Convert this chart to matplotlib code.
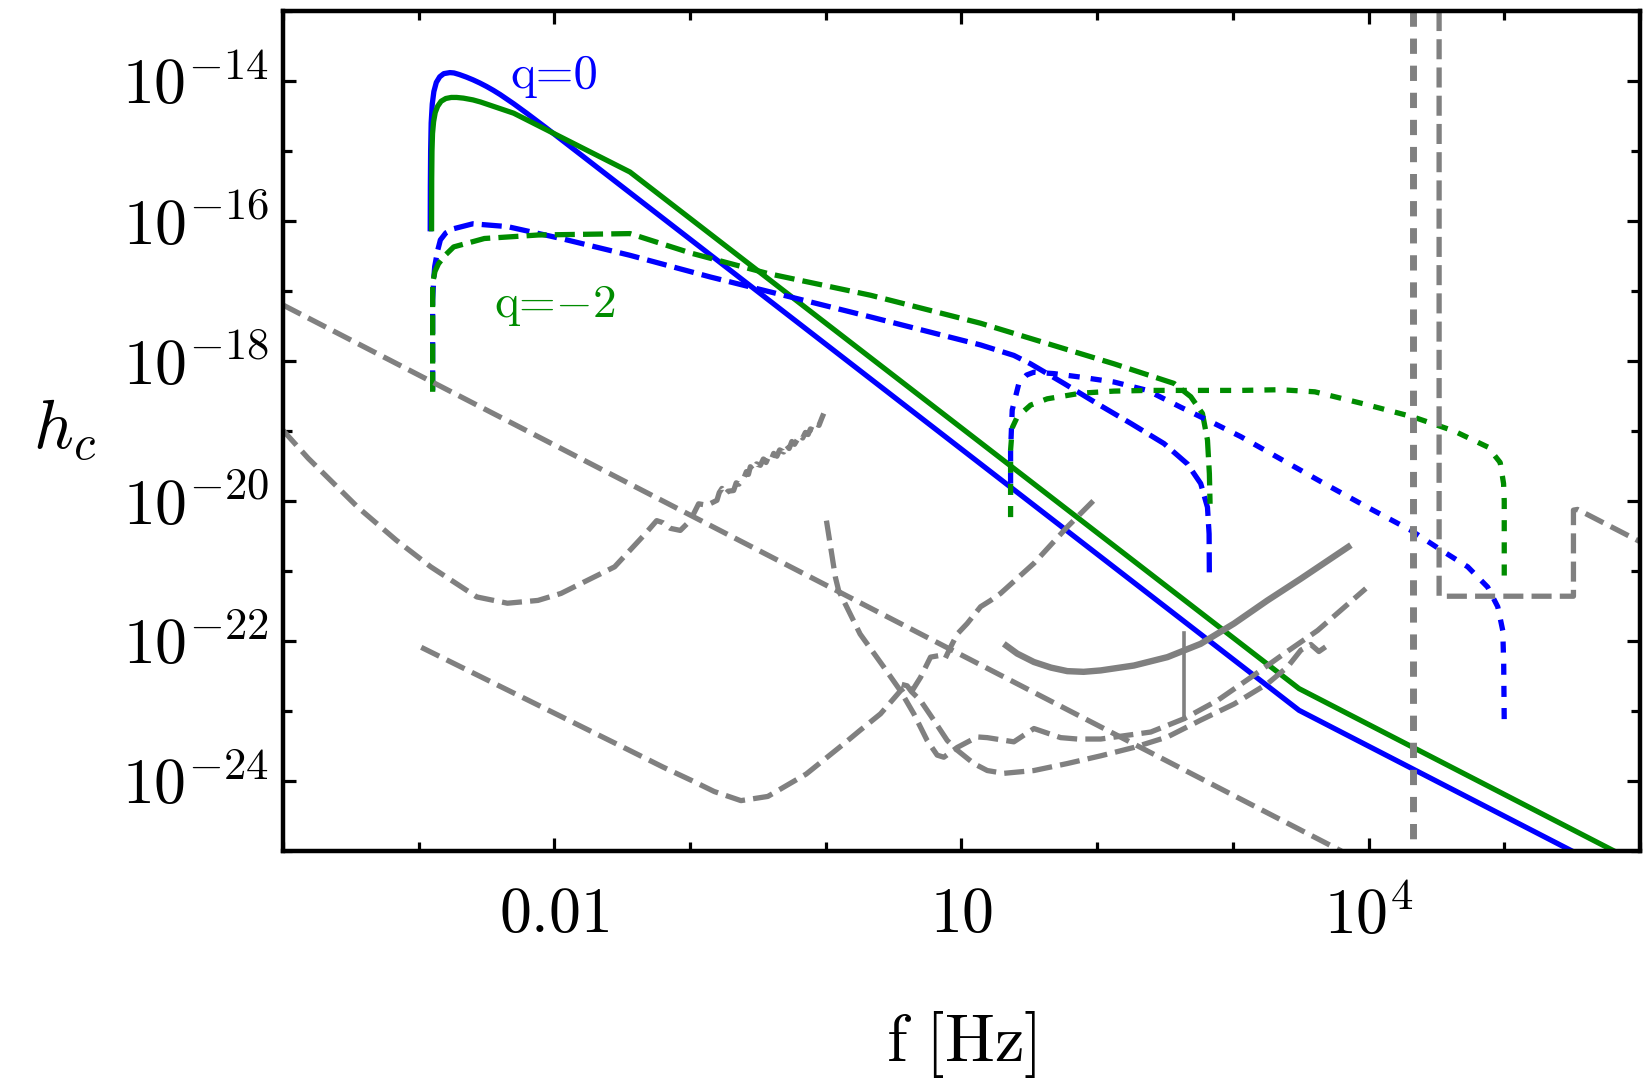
# Characteristic strain h_c vs frequency, with detector curves in grey.
import matplotlib
matplotlib.use('Agg')
import matplotlib.pyplot as plt
import numpy as np
from matplotlib.ticker import FixedLocator, NullFormatter

plt.rcParams['mathtext.fontset'] = 'cm'
plt.rcParams['font.family'] = ['cmr10', 'DejaVu Serif']
plt.rcParams['axes.formatter.use_mathtext'] = True

# ---- signal curves (log10 f [Hz], log10 h_c) ----
q0_solid_logf = [-2.915, -2.914, -2.912, -2.908, -2.900, -2.888, -2.870, -2.845, -2.815, -2.77,
                 -2.74, -2.70, -2.65, -2.60, -2.55, -2.50, -2.45, -2.40, -2.30, -2.2, -2.065,
                 3.488, 6.0]
q0_solid_logh = [-16.11, -15.5, -15.0, -14.6, -14.33, -14.15, -14.02, -13.94, -13.895, -13.88,
                 -13.885, -13.908, -13.943, -13.983, -14.028, -14.078, -14.133, -14.193, -14.325,
                 -14.466, -14.663, -22.99, -25.50]

qm2_solid_logf = [-2.905, -2.904, -2.902, -2.898, -2.89, -2.878, -2.86, -2.835, -2.80, -2.76,
                  -2.72, -2.67, -2.60, -2.544, -2.30, -2.065, -1.443, 3.488, 6.0]
qm2_solid_logh = [-16.11, -15.4, -15.0, -14.75, -14.58, -14.45, -14.36, -14.29, -14.25, -14.235,
                  -14.235, -14.245, -14.27, -14.30, -14.46, -14.69, -15.30, -22.68, -25.19]

q0_dash_logf = [-2.897, -2.897, -2.89, -2.882, -2.86, -2.840, -2.80, -2.742, -2.601, -2.346,
                -1.951, -1.443, -0.850, 0.329, 1.140, 1.386, 1.509, 1.755, 2.001, 2.247,
                2.493, 2.665, 2.763, 2.813, 2.825, 2.827]
q0_dash_logh = [-18.42, -17.13, -16.85, -16.65, -16.42, -16.27, -16.17, -16.11, -16.04, -16.08,
                -16.25, -16.49, -16.80, -17.37, -17.77, -17.92, -18.04, -18.32, -18.61, -18.89,
                -19.18, -19.47, -19.75, -20.09, -20.47, -21.13]

qm2_dash_logf = [-2.897, -2.897, -2.88, -2.854, -2.80, -2.742, -2.516, -2.120, -1.443, -0.991,
                 -0.427, 0.329, 1.140, 1.632, 2.124, 2.566, 2.690, 2.776, 2.813, 2.827, 2.832]
qm2_dash_logh = [-18.44, -16.89, -16.72, -16.61, -16.48, -16.37, -16.25, -16.20, -16.18, -16.46,
                 -16.75, -17.06, -17.46, -17.75, -18.04, -18.32, -18.51, -18.75, -19.13, -19.61,
                 -20.04]

q0_dot_logf = [1.362, 1.362, 1.374, 1.423, 1.48, 1.534, 1.681, 1.878, 2.124, 2.370, 2.616, 2.861,
               3.058, 3.352, 3.673, 3.993, 4.313, 4.534, 4.731, 4.878, 4.952, 4.989, 4.996, 5.0]
q0_dot_logh = [-19.75, -19.27, -18.70, -18.32, -18.20, -18.16, -18.18, -18.23, -18.30, -18.42,
               -18.66, -18.89, -19.08, -19.40, -19.75, -20.09, -20.42, -20.70, -20.94, -21.23,
               -21.51, -21.85, -22.32, -23.18]

qm2_dot_logf = [1.362, 1.362, 1.375, 1.411, 1.509, 1.632, 1.878, 2.124, 2.370, 3.058, 3.352,
                3.604, 3.96, 4.33, 4.63, 4.88, 4.97, 4.995, 5.0, 5.0]
qm2_dot_logh = [-20.23, -19.27, -18.95, -18.80, -18.63, -18.54, -18.46, -18.43, -18.42, -18.42,
                -18.41, -18.44, -18.61, -18.80, -19.00, -19.23, -19.45, -19.75, -20.0, -21.09]

# ---- detector sensitivity curves (grey) ----
lisa_logf = [-4.0, -3.814, -3.448, -3.165, -2.911, -2.572, -2.346, -2.121, -1.951, -1.556,
             -1.331, -1.246, -1.20, -1.146, -1.072, -0.999, -0.937, -0.875,
             -0.802, -0.785, -0.765, -0.74, -0.72, -0.679, -0.66, -0.64, -0.605, -0.585,
             -0.57, -0.556, -0.535, -0.51, -0.482, -0.46, -0.44, -0.42, -0.40, -0.384,
             -0.36, -0.34, -0.31, -0.29, -0.27, -0.25, -0.23, -0.212, -0.19, -0.17,
             -0.15, -0.13, -0.113, -0.09, -0.07, -0.05, -0.03, -0.015]
lisa_logh = [-18.99, -19.39, -20.09, -20.56, -20.94, -21.37, -21.46, -21.42, -21.32, -20.94,
             -20.47, -20.28, -20.31, -20.39, -20.42, -20.28, -20.04, -20.06,
             -19.99, -19.88, -19.82, -19.90, -19.86, -19.85, -19.74, -19.76, -19.68, -19.58,
             -19.62, -19.51, -19.56, -19.47, -19.49, -19.40, -19.45, -19.36, -19.40, -19.32,
             -19.36, -19.27, -19.30, -19.20, -19.25, -19.15, -19.19, -19.13, -19.06, -19.10,
             -19.02, -19.05, -18.97, -18.99, -18.90, -18.92, -18.82, -18.75]

decigo_logf = [-2.981, -1.5, -1.2, -0.991, -0.822, -0.625, -0.427, -0.144, 0.132, 0.250, 0.4035,
               0.551, 0.60, 0.64, 0.698, 0.772, 0.83, 0.88, 0.919, 0.969, 1.042, 1.141, 1.215,
               1.288, 1.534, 1.780, 2.001]
decigo_logh = [-22.09, -23.51, -23.80, -23.99, -24.15, -24.28, -24.22, -23.90, -23.47, -23.28,
               -23.04, -22.71, -22.64, -22.70, -22.52, -22.23, -22.21, -22.25, -22.09, -21.90,
               -21.75, -21.51, -21.42, -21.32, -20.89, -20.37, -19.94]

et_logf = [0.005, 0.071, 0.095, 0.253, 0.427, 0.550, 0.649, 0.747, 0.821, 0.870, 0.969, 1.116,
           1.190, 1.386, 1.534, 1.731, 1.854, 2.026, 2.173, 2.395, 2.640, 2.886, 3.132, 3.378,
           3.624, 3.980]
et_logh = [-20.28, -21.09, -21.28, -21.90, -22.37, -22.71, -23.04, -23.42, -23.63, -23.66, -23.52,
           -23.37, -23.38, -23.44, -23.25, -23.38, -23.40, -23.40, -23.36, -23.30, -23.11, -22.85,
           -22.52, -22.18, -21.85, -21.25]

ce_logf = [0.56, 0.60, 0.63, 0.698, 0.796, 0.895, 0.969, 1.091, 1.190, 1.312, 1.534, 1.780, 2.026,
           2.271, 2.518, 2.763, 3.009, 3.255, 3.403, 3.501, 3.575, 3.634, 3.723]
ce_logh = [-22.62, -22.64, -22.72, -22.85, -23.13, -23.42, -23.56, -23.75, -23.85, -23.89, -23.85,
           -23.75, -23.64, -23.52, -23.37, -23.13, -22.90, -22.61, -22.37, -22.13, -22.05, -22.15,
           -22.03]

aligo_logf = [1.312, 1.411, 1.534, 1.660, 1.780, 1.900, 2.026, 2.271, 2.518, 2.763, 3.009, 3.255,
              3.501, 3.870]
aligo_logh = [-22.04, -22.18, -22.30, -22.38, -22.43, -22.44, -22.42, -22.35, -22.23, -22.04,
              -21.75, -21.42, -21.11, -20.63]

spike_logf = [2.638, 2.638]
spike_logh = [-21.89, -23.11]

slope_logf = [-4.0, 3.8]
slope_logh = [-17.2, -25.0]

vline_logf = [4.326, 4.326]
vline_logh = [-13.0, -25.0]

step_logf = [4.52, 4.52, 5.51, 5.51, 5.54, 6.0]
step_logh = [-13.0, -21.36, -21.36, -20.13, -20.12, -20.58]


def pw(a):
    return 10.0 ** np.asarray(a)


blue = '#0000ff'
green = '#008c00'
grey = '#808080'
lw = 3.8
dash = (3.8, 1.55)
dot = (2.1, 2.1)

fig = plt.figure(figsize=(16.52, 10.88), dpi=100)
ax = fig.add_axes([0.1713, 0.2178, 0.8214, 0.7721])
ax.set_xscale('log')
ax.set_yscale('log')

# coloured curves
ax.plot(pw(q0_solid_logf), pw(q0_solid_logh), color=blue, lw=lw)
ax.plot(pw(qm2_solid_logf), pw(qm2_solid_logh), color=green, lw=lw)
ax.plot(pw(q0_dash_logf), pw(q0_dash_logh), color=blue, lw=lw, dashes=dash, dash_capstyle='butt')
ax.plot(pw(qm2_dash_logf), pw(qm2_dash_logh), color=green, lw=lw, dashes=dash, dash_capstyle='butt')
ax.plot(pw(q0_dot_logf), pw(q0_dot_logh), color=blue, lw=lw, dashes=dot, dash_capstyle='butt')
ax.plot(pw(qm2_dot_logf), pw(qm2_dot_logh), color=green, lw=lw, dashes=dot, dash_capstyle='butt')

# grey detector curves
for lf, lh in [(lisa_logf, lisa_logh), (decigo_logf, decigo_logh), (et_logf, et_logh),
               (ce_logf, ce_logh), (slope_logf, slope_logh)]:
    ax.plot(pw(lf), pw(lh), color=grey, lw=lw, dashes=dash, dash_capstyle='butt')
ax.plot(pw(aligo_logf), pw(aligo_logh), color=grey, lw=4.6, solid_capstyle='butt')
ax.plot(pw(spike_logf), pw(spike_logh), color=grey, lw=2.6)
ax.plot(pw(vline_logf), pw(vline_logh), color=grey, lw=5.0, dashes=(2.2, 1.7), dash_capstyle='butt')
ax.plot(pw(step_logf), pw(step_logh), color=grey, lw=lw, dashes=dash, dash_capstyle='butt')

# labels on curves
ax.text(1e-2, 10 ** -13.93, 'q=0', color=blue, fontsize=35, ha='center', va='center')
ax.text(1e-2, 10 ** -17.21, 'q=$-$2', color=green, fontsize=34, ha='center', va='center')

ax.set_xlim(1e-4, 1e6)
ax.set_ylim(1e-25, 1e-13)

ax.set_xticks([1e-2, 1e1, 1e4])
ax.set_xticklabels([r'$0.01$', r'$10$', r'$10^{4}$'])
ax.xaxis.set_minor_locator(FixedLocator(10.0 ** np.arange(-4, 7)))
ax.xaxis.set_minor_formatter(NullFormatter())
yexp = np.arange(-24, -13, 2)
ax.set_yticks(10.0 ** yexp)
ax.set_yticklabels([r'$10^{%d}$' % e for e in yexp])
ax.yaxis.set_minor_locator(FixedLocator(10.0 ** np.arange(-25, -12)))
ax.yaxis.set_minor_formatter(NullFormatter())

ax.tick_params(which='both', direction='in', top=True, right=True, width=2.3, labelsize=46)
ax.tick_params(which='major', length=9.5)
ax.tick_params(which='minor', length=6.2)
ax.tick_params(axis='x', which='major', pad=26)
ax.tick_params(axis='y', which='major', pad=10)
for s in ax.spines.values():
    s.set_linewidth(3.2)

ax.set_xlabel(r'$\mathrm{f\ [Hz]}$', fontsize=48)
ax.xaxis.set_label_coords(0.5, -0.188)
ax.set_ylabel(r'$h_c$', fontsize=50, rotation=0, ha='center', va='center')
ax.yaxis.set_label_coords(-0.161, 0.5)

fig.savefig('out.png', dpi=100)
